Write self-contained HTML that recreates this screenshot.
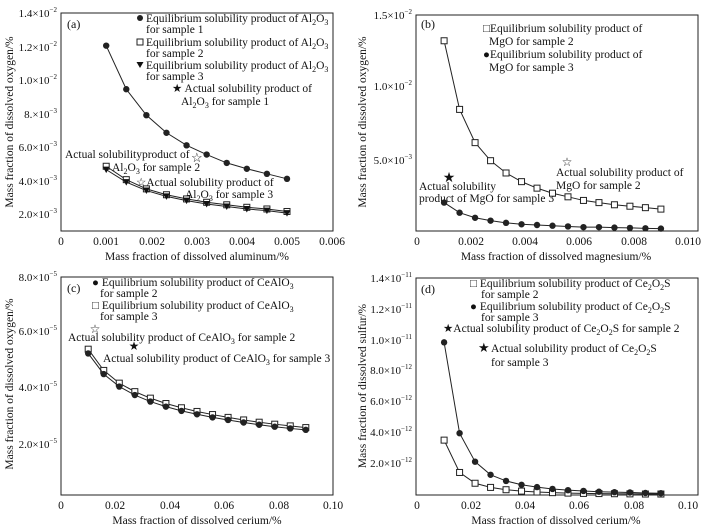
<!DOCTYPE html>
<html><head><meta charset="utf-8"><style>
body{margin:0;background:#fff}
svg{display:block;font-family:"Liberation Serif","DejaVu Serif",serif;}
text{fill:#111}
</style></head><body>
<svg id="s" width="702" height="529" viewBox="0 0 702 529" xmlns="http://www.w3.org/2000/svg" font-family="Liberation Serif, DejaVu Serif, serif">
<g font-size="11.5">
<!-- Panel a -->
<rect x="61" y="13" width="272" height="218" fill="none" stroke="#222" stroke-width="1"/>
<text x="67" y="28" font-size="12">(a)</text>
<g text-anchor="end" font-size="11">
<text x="57" y="17">1.4×10<tspan dy="-5" font-size="7">−2</tspan></text>
<text x="57" y="51">1.2×10<tspan dy="-5" font-size="7">−2</tspan></text>
<text x="57" y="84">1.0×10<tspan dy="-5" font-size="7">−2</tspan></text>
<text x="57" y="118">8.×10<tspan dy="-5" font-size="7">−3</tspan></text>
<text x="57" y="151">6.0×10<tspan dy="-5" font-size="7">−3</tspan></text>
<text x="57" y="185">4.0×10<tspan dy="-5" font-size="7">−3</tspan></text>
<text x="57" y="218">2.0×10<tspan dy="-5" font-size="7">−3</tspan></text>
</g>
<g text-anchor="middle" font-size="11.5">
<text x="61" y="245">0</text><text x="106" y="245">0.001</text><text x="152" y="245">0.002</text><text x="197" y="245">0.003</text><text x="242" y="245">0.004</text><text x="287" y="245">0.005</text><text x="332" y="245">0.006</text>
<text x="197" y="260">Mass fraction of dissolved aluminum/%</text>
<text transform="translate(13,122) rotate(-90)">Mass fraction of dissolved oxygen/%</text>
</g>
<circle cx="140" cy="18" r="3" fill="#222"/>
<rect x="137" y="39" width="6" height="6" fill="#fff" stroke="#222"/>
<polygon points="136.5,62 143.5,62 140,68" fill="#111"/>
<text x="146" y="22">Equilibrium solubility product of Al<tspan dy="3" font-size="8">2</tspan><tspan dy="-3">O</tspan><tspan dy="3" font-size="8">3</tspan></text>
<text x="146" y="33">for sample 1</text>
<text x="146" y="46">Equilibrium solubility product of Al<tspan dy="3" font-size="8">2</tspan><tspan dy="-3">O</tspan><tspan dy="3" font-size="8">3</tspan></text>
<text x="146" y="57">for sample 2</text>
<text x="146" y="69">Equilibrium solubility product of Al<tspan dy="3" font-size="8">2</tspan><tspan dy="-3">O</tspan><tspan dy="3" font-size="8">3</tspan></text>
<text x="146" y="80">for sample 3</text>
<text x="172" y="92">★ Actual solubility product of</text>
<text x="181" y="105">Al<tspan dy="3" font-size="8">2</tspan><tspan dy="-3">O</tspan><tspan dy="3" font-size="8">3</tspan><tspan dy="-3">  for sample 1</tspan></text>
<text x="65" y="158">Actual solubilityproduct of</text>
<text x="112" y="171">Al<tspan dy="3" font-size="8">2</tspan><tspan dy="-3">O</tspan><tspan dy="3" font-size="8">3</tspan><tspan dy="-3"> for sample 2</tspan></text>
<text x="136" y="186">☆Actual solubility product of</text>
<text x="185" y="198">Al<tspan dy="3" font-size="8">2</tspan><tspan dy="-3">O</tspan><tspan dy="3" font-size="8">3</tspan><tspan dy="-3">  for sample 3</tspan></text>
<text x="191" y="162" font-size="13">☆</text>

<!-- Panel b -->
<rect x="416" y="15" width="282" height="216" fill="none" stroke="#222"/>
<text x="421" y="28" font-size="12">(b)</text>
<g text-anchor="end" font-size="11">
<text x="412" y="19">1.5×10<tspan dy="-5" font-size="7">−2</tspan></text>
<text x="412" y="90">1.0×10<tspan dy="-5" font-size="7">−2</tspan></text>
<text x="412" y="164">5.0×10<tspan dy="-5" font-size="7">−3</tspan></text>
</g>
<g text-anchor="middle">
<text x="417" y="245">0</text><text x="471" y="245">0.002</text><text x="525" y="245">0.004</text><text x="579" y="245">0.006</text><text x="634" y="245">0.008</text><text x="688" y="245">0.010</text>
<text x="556" y="260">Mass fraction of dissolved magnesium/%</text>
<text transform="translate(366,122) rotate(-90)">Mass fraction of dissolved oxygen/%</text>
</g>
<text x="483" y="32">□Equilibrium solubility product of</text>
<text x="489" y="45">MgO for sample 2</text>
<text x="483" y="58">●Equilibrium solubility product of</text>
<text x="489" y="71">MgO for sample 3</text>
<text x="556" y="176">Actual solubility product of</text>
<text x="556" y="189">MgO for sample 2</text>
<text x="419" y="190">Actual solubility</text>
<text x="419" y="202">product of MgO for sample 3</text>
<text x="567" y="166" font-size="12" text-anchor="middle">☆</text>
<text x="449" y="182" font-size="14" text-anchor="middle">★</text>

<!-- Panel c -->
<rect x="61" y="277" width="272" height="218" fill="none" stroke="#222"/>
<text x="67" y="292" font-size="12">(c)</text>
<g text-anchor="end" font-size="11">
<text x="57" y="281">8.0×10<tspan dy="-5" font-size="7">−5</tspan></text>
<text x="57" y="335">6.0×10<tspan dy="-5" font-size="7">−5</tspan></text>
<text x="57" y="391">4.0×10<tspan dy="-5" font-size="7">−5</tspan></text>
<text x="57" y="448">2.0×10<tspan dy="-5" font-size="7">−5</tspan></text>
</g>
<g text-anchor="middle">
<text x="61" y="509">0</text><text x="115" y="509">0.02</text><text x="170" y="509">0.04</text><text x="224" y="509">0.06</text><text x="279" y="509">0.08</text><text x="333" y="509">0.10</text>
<text x="197" y="524">Mass fraction of dissolved cerium/%</text>
<text transform="translate(13,384) rotate(-90)">Mass fraction of dissolved oxygen/%</text>
</g>
<text x="92" y="286">● Equilibrium solubility product of CeAlO<tspan dy="3" font-size="8">3</tspan></text>
<text x="100" y="297">for sample 2</text>
<text x="92" y="309">□ Equilibrium solubility product of CeAlO<tspan dy="3" font-size="8">3</tspan></text>
<text x="100" y="320">for sample 3</text>
<text x="95" y="333" font-size="12" text-anchor="middle">☆</text>
<text x="68" y="341">Actual solubility product of CeAlO<tspan dy="3" font-size="8">3</tspan><tspan dy="-3"> for sample 2</tspan></text>
<text x="134" y="350" font-size="12" text-anchor="middle">★</text>
<text x="103" y="362">Actual solubility product of CeAlO<tspan dy="3" font-size="8">3</tspan><tspan dy="-3"> for sample 3</tspan></text>

<!-- Panel d -->
<rect x="416" y="278" width="282" height="217" fill="none" stroke="#222"/>
<text x="421" y="293" font-size="12">(d)</text>
<g text-anchor="end" font-size="11">
<text x="412" y="282">1.4×10<tspan dy="-5" font-size="7">−11</tspan></text>
<text x="412" y="313">1.2×10<tspan dy="-5" font-size="7">−11</tspan></text>
<text x="412" y="344">1.0×10<tspan dy="-5" font-size="7">−11</tspan></text>
<text x="412" y="374">8.0×10<tspan dy="-5" font-size="7">−12</tspan></text>
<text x="412" y="405">6.0×10<tspan dy="-5" font-size="7">−12</tspan></text>
<text x="412" y="436">4.0×10<tspan dy="-5" font-size="7">−12</tspan></text>
<text x="412" y="467">2.0×10<tspan dy="-5" font-size="7">−12</tspan></text>
</g>
<g text-anchor="middle">
<text x="417" y="509">0</text><text x="471" y="509">0.02</text><text x="525" y="509">0.04</text><text x="579" y="509">0.06</text><text x="634" y="509">0.08</text><text x="688" y="509">0.10</text>
<text x="556" y="524">Mass fraction of dissolved cerium/%</text>
<text transform="translate(366,386) rotate(-90)">Mass fraction of dissolved sulfur/%</text>
</g>
<text x="470" y="287">□ Equilibrium solubility product of Ce<tspan dy="3" font-size="8">2</tspan><tspan dy="-3">O</tspan><tspan dy="3" font-size="8">2</tspan><tspan dy="-3">S</tspan></text>
<text x="481" y="298">for sample 2</text>
<text x="470" y="310">● Equilibrium solubility product of Ce<tspan dy="3" font-size="8">2</tspan><tspan dy="-3">O</tspan><tspan dy="3" font-size="8">2</tspan><tspan dy="-3">S</tspan></text>
<text x="481" y="321">for sample 3</text>
<text x="443" y="332">★Actual solubility product of Ce<tspan dy="3" font-size="8">2</tspan><tspan dy="-3">O</tspan><tspan dy="3" font-size="8">2</tspan><tspan dy="-3">S for sample 2</tspan></text>
<text x="478" y="352" font-size="13">★</text>
<text x="491" y="352">Actual solubility product of Ce<tspan dy="3" font-size="8">2</tspan><tspan dy="-3">O</tspan><tspan dy="3" font-size="8">2</tspan><tspan dy="-3">S</tspan></text>
<text x="491" y="366">for sample 3</text>
</g>
<g id="data"></g>
</svg>
<script>
var g=document.getElementById('data'),NS='http://www.w3.org/2000/svg';
function el(t,a){var e=document.createElementNS(NS,t);for(var k in a)e.setAttribute(k,a[k]);g.appendChild(e);return e;}
function series(x0,x1,ys,X,Y,m){var n=ys.length,pts=[];for(var i=0;i<n;i++){var x=x0+(x1-x0)*i/(n-1);pts.push([X(x),Y(ys[i])]);}
el('polyline',{points:pts.map(p=>p.join(',')).join(' '),fill:'none',stroke:'#222','stroke-width':1});
pts.forEach(p=>{if(m=='c')el('circle',{cx:p[0],cy:p[1],r:3.2,fill:'#222'});else if(m=='s')el('rect',{x:p[0]-3,y:p[1]-3,width:6,height:6,fill:'#fff',stroke:'#222'});else el('polygon',{points:(p[0]-3.5)+','+(p[1]-3)+' '+(p[0]+3.5)+','+(p[1]-3)+' '+p[0]+','+(p[1]+3.5),fill:'#111'});});}
var Xa=x=>61+x/0.001*45.2,Ya=y=>214-(y-2)*16.75;
series(0.001,0.005,[12.05,9.45,7.9,6.85,6.1,5.55,5.05,4.7,4.4,4.1],Xa,Ya,'c');
series(0.001,0.005,[4.85,4.05,3.5,3.15,2.9,2.7,2.55,2.4,2.3,2.15],Xa,Ya,'s');
series(0.001,0.005,[4.65,3.9,3.4,3.05,2.8,2.6,2.45,2.3,2.2,2.05],Xa,Ya,'t');
var Xb=x=>417+x/0.01*271,Yb=y=>231.5-y*14.45;
series(0.001,0.009,[13.2,8.45,6.15,4.9,4.05,3.45,3.0,2.65,2.4,2.15,2.0,1.85,1.75,1.65,1.55],Xb,Yb,'s');
series(0.001,0.009,[2.0,1.3,0.95,0.75,0.6,0.5,0.45,0.4,0.35,0.3,0.3,0.27,0.25,0.22,0.2],Xb,Yb,'c');
var Xc=x=>61+x/0.1*272,Yc=y=>444-(y-2)*28.3;
series(0.01,0.09,[5.35,4.6,4.15,3.85,3.62,3.43,3.28,3.15,3.04,2.94,2.85,2.77,2.7,2.64,2.58],Xc,Yc,'s');
series(0.01,0.09,[5.2,4.47,4.03,3.73,3.5,3.32,3.17,3.05,2.94,2.85,2.76,2.68,2.61,2.55,2.5],Xc,Yc,'c');
var Xd=x=>417+x/0.1*271,Yd=y=>230.8+264-y*15.4;
series(0.01,0.09,[3.55,1.45,0.75,0.48,0.33,0.24,0.18,0.14,0.11,0.09,0.08,0.07,0.06,0.05,0.05],Xd,Yd,'s');
series(0.01,0.09,[9.9,4.0,2.15,1.3,0.9,0.65,0.5,0.38,0.3,0.25,0.2,0.17,0.15,0.12,0.1],Xd,Yd,'c');
</script>
</body></html>
